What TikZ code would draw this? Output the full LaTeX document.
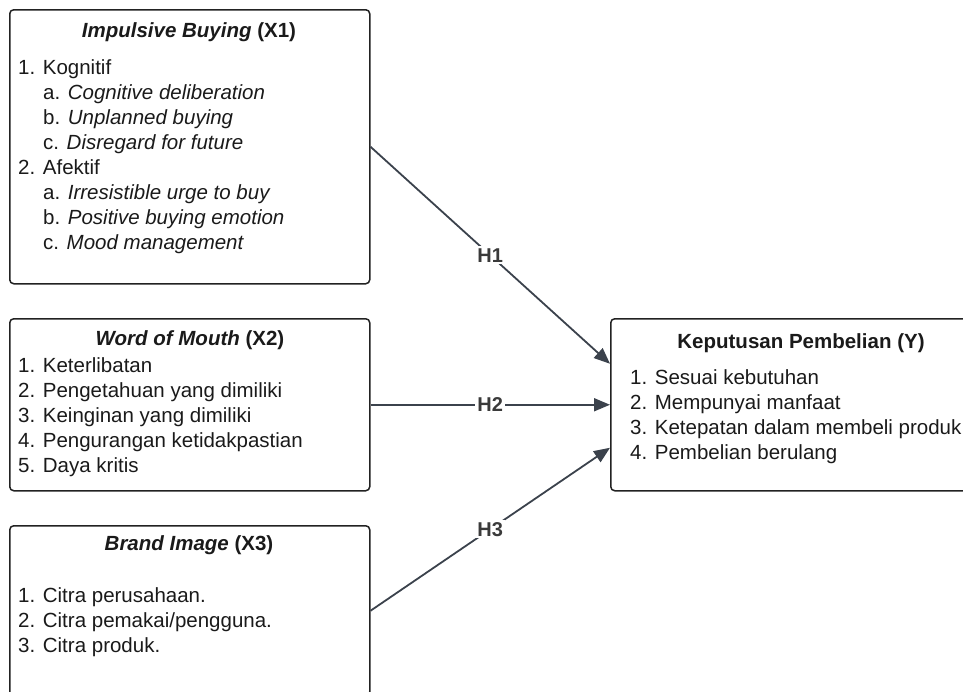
\documentclass[tikz,border=0pt]{standalone}
\usepackage{fontspec}
\setmainfont{Liberation Sans}
\usetikzlibrary{arrows.meta}
\definecolor{boxline}{HTML}{222222}
\definecolor{arrowc}{HTML}{3B424C}
\definecolor{txt}{HTML}{1A1A1A}
\definecolor{lbl}{HTML}{3A3A3A}
\begin{document}
\begin{tikzpicture}[x=1pt,y=-1pt,
 box/.style={draw=boxline, line width=1.5pt, rounded corners=4pt, inner sep=0pt, anchor=north west},
 ttl/.style={font=\fontsize{20.5}{25}\selectfont\bfseries, text=txt, inner sep=0pt},
 lst/.style={font=\fontsize{20.5}{25}\selectfont, text=txt, align=left, inner sep=0pt, anchor=north west},
 conn/.style={draw=arrowc, line width=1.8pt, -{Triangle[length=16pt,width=13pt]}},
 hyp/.style={font=\fontsize{20}{24}\selectfont\bfseries, text=lbl, fill=white, inner sep=2pt}]
\useasboundingbox (0,0) rectangle (963,691);
\clip (0,0) rectangle (963,691);
\node[box, minimum width=360pt, minimum height=274pt] (x1) at (9,9) {};
\node[box, minimum width=360pt, minimum height=172pt] (x2) at (9,318) {};
\node[box, minimum width=360pt, minimum height=170pt] (x3) at (9,525) {};
\node[box, minimum width=382pt, minimum height=172pt] (y) at (610,318) {};
\node[ttl] (t1) at (189,32) {\textit{Impulsive Buying} (X1)};
\node[ttl] (t2) at (190,340) {\textit{Word of Mouth} (X2)};
\node[ttl] (t3) at (189,545) {\textit{Brand Image} (X3)};
\node[ttl] (ty) at (801,343) {Keputusan Pembelian (Y)};
\node[lst] (l1) at (18,59.5) {1. Kognitif\\
\hspace*{25pt}a. \textit{Cognitive deliberation}\\
\hspace*{25pt}b. \textit{Unplanned buying}\\
\hspace*{25pt}c. \textit{Disregard for future}\\
2. Afektif\\
\hspace*{25pt}a. \textit{Irresistible urge to buy}\\
\hspace*{25pt}b. \textit{Positive buying emotion}\\
\hspace*{25pt}c. \textit{Mood management}};
\node[lst] (l2) at (18,357.5) {1. Keterlibatan\\
2. Pengetahuan yang dimiliki\\
3. Keinginan yang dimiliki\\
4. Pengurangan ketidakpastian\\
5. Daya kritis};
\node[lst] (l3) at (18,587.5) {1. Citra perusahaan.\\
2. Citra pemakai/pengguna.\\
3. Citra produk.};
\node[lst] (ly) at (630,369.5) {1. Sesuai kebutuhan\\
2. Mempunyai manfaat\\
3. Ketepatan dalam membeli produk\\
4. Pembelian berulang};
\draw[conn] (x1.east) -- node[hyp] (h1) {H1} ([yshift=41pt]y.west);
\draw[conn] (x2.east) -- node[hyp] (h2) {H2} (y.west);
\draw[conn] (x3.east) -- node[hyp] (h3) {H3} ([yshift=-43pt]y.west);
\end{tikzpicture}
\end{document}
